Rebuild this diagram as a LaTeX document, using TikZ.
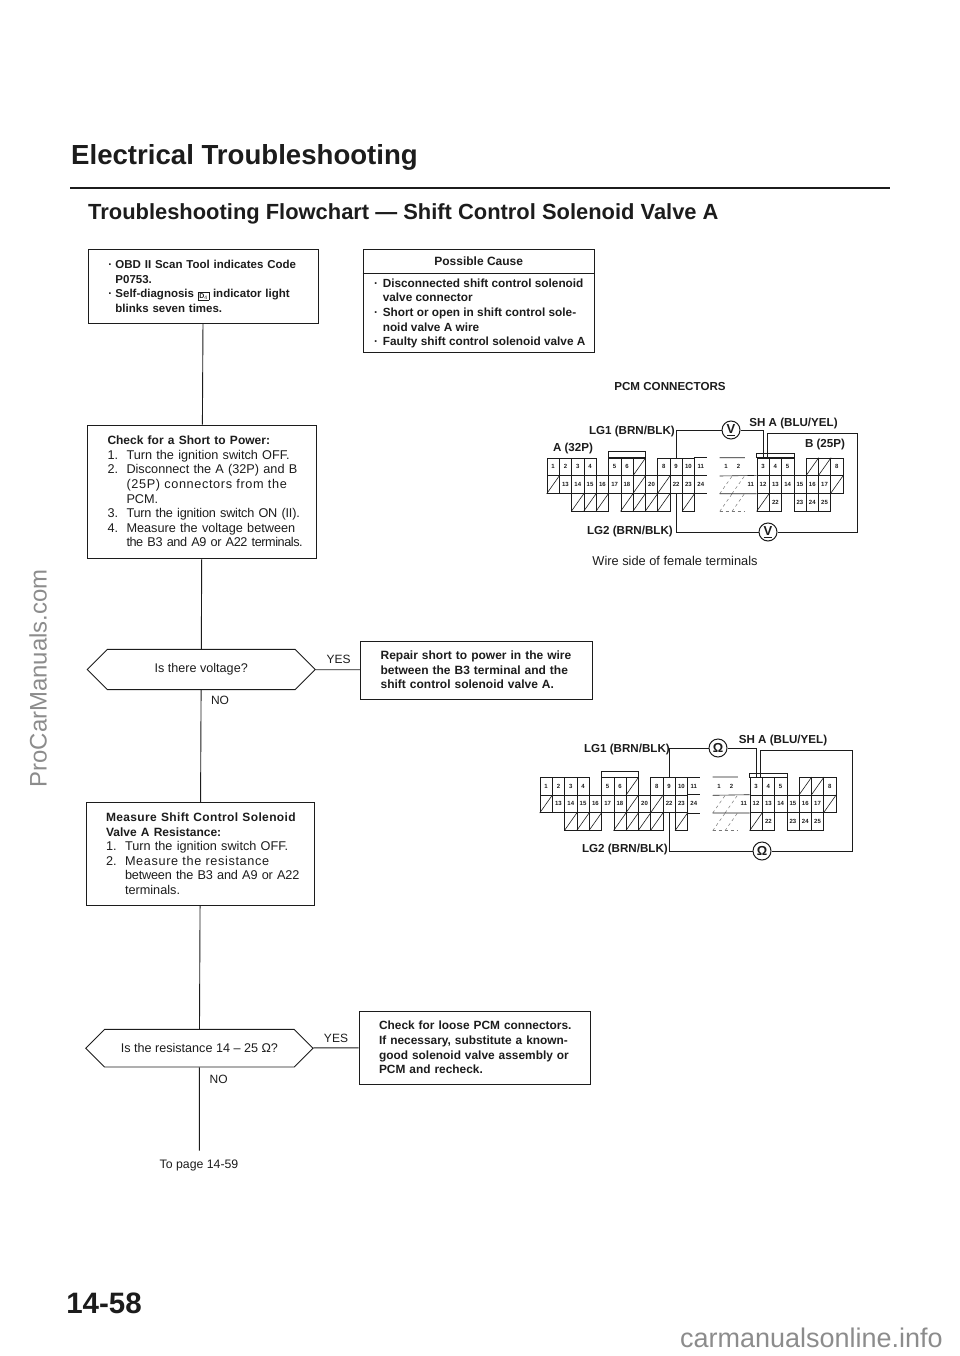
\documentclass[tikz,border=0pt]{standalone}
\usepackage{fontspec}
\setmainfont{Liberation Sans}
\usetikzlibrary{positioning,shapes.misc,shapes.geometric}
\definecolor{ink}{HTML}{1C1C1C}
\definecolor{markgray}{HTML}{8C8C8C}
\newcommand{\fs}[1]{\fontsize{#1}{14.6}\selectfont}
\newcommand{\stline}[3][5]{\makebox[#2][s]{\addfontfeature{LetterSpace=#1}#3}}
\newcommand{\hang}{\hspace*{19pt}}
\newcommand{\numit}[1]{\makebox[19pt][l]{#1}}
\newcommand{\bul}{\makebox[7pt][l]{·}}
\newcommand{\dfour}{{\setlength{\fboxsep}{1pt}\setlength{\fboxrule}{.5pt}\raisebox{-.5pt}{\fbox{\fs{7}D$_{\mathrm{4}}$}}}}
\tikzset{
    boxnode/.style={draw=ink, line width=.9pt, text=ink, inner xsep=0pt, inner ysep=0pt, font=\fs{12.7},
        execute at begin node={\raggedright\leftskip=20pt\relax}},
    boldbox/.style={boxnode, font=\fs{12}\bfseries},
    hexnode/.style={draw=ink, line width=.9pt, text=ink, font=\fs{12.6}, chamfered rectangle, chamfered rectangle xsep=18pt,
        chamfered rectangle ysep=14.2pt, chamfered rectangle corners={north west,south west,north east,south east},
        inner sep=0pt},
    flow/.style={draw=ink, line width=.9pt},
    wire/.style={draw=ink, line width=1pt},
    meter/.style={draw=ink, circle, line width=1pt, fill=white, text=ink, minimum size=18pt, inner sep=0pt, font=\fs{13}\bfseries},
    lbl/.style={text=ink, font=\fs{11.6}\bfseries, inner sep=0pt},
    tag/.style={text=ink, font=\fs{12}, inner sep=0pt},
    cell/.style={draw=ink, line width=.6pt, minimum width=12.3pt, minimum height=17.7pt, inner sep=0pt, text=ink, font=\fs{6}\bfseries},
    plain/.style={cell, draw=none},
}
% one pair of connectors, #1 = prefix of the names, #2 = left end, #3 = top end
\newcommand{\pcmpair}[3]{
    \begin{scope}[shift={(#2,#3)}]
        \foreach \c/\r/\t in {0/0/1,1/0/2,2/0/3,3/0/4,5/0/5,6/0/6,9/0/8,10/0/9,11/0/10,
            1/1/13,2/1/14,3/1/15,4/1/16,5/1/17,6/1/18,8/1/20,10/1/22,11/1/23}
            \node[cell] (#1a\c-\r) at ({\c*12.3+6.15},{\r*17.7+8.85}) {\t};
        \foreach \c/\r in {7/0,0/1,7/1,9/1,2/2,3/2,4/2,6/2,7/2,8/2,9/2,11/2}{
            \node[cell] (#1a\c-\r) at ({\c*12.3+6.15},{\r*17.7+8.85}) {};
            \draw[ink, line width=.6pt] (#1a\c-\r.south west) -- (#1a\c-\r.north east);
        }
        \node[plain] (#1a12-0) at ({12*12.3+6.15},{8.85}) {11};
        \node[plain] (#1a12-1) at ({12*12.3+6.15},{17.7+8.85}) {24};
        \draw[ink, line width=.6pt] (#1a12-0.north west) -- (#1a12-0.north east)
            (#1a12-1.north west) -- (#1a12-1.north east) (#1a12-1.south west) -- (#1a12-1.south east);
        \draw[ink, line width=.6pt] ([yshift=6pt]#1a5-0.north west) rectangle (#1a7-0.north east);
        \begin{scope}[xshift=173pt]
            \foreach \c/\r/\t in {3/0/3,4/0/4,5/0/5,3/1/12,4/1/13,5/1/14,6/1/15,7/1/16,8/1/17,4/2/22,6/2/23,7/2/24,8/2/25,9/0/8}
                \node[cell] (#1b\c-\r) at ({\c*12.3+6.15},{\r*17.7+8.85}) {\t};
            \foreach \c/\r in {7/0,8/0,9/1,3/2}{
                \node[cell] (#1b\c-\r) at ({\c*12.3+6.15},{\r*17.7+8.85}) {};
                \draw[ink, line width=.6pt] (#1b\c-\r.south west) -- (#1b\c-\r.north east);
            }
            \foreach \c/\r/\t in {0/0/1,1/0/2,2/1/11}
                \node[plain] (#1b\c-\r) at ({\c*12.3+6.15},{\r*17.7+8.85}) {\t};
            \foreach \c/\r in {0/1,1/1,0/2,1/2}{
                \node[plain] (#1b\c-\r) at ({\c*12.3+6.15},{\r*17.7+8.85}) {};
                \draw[ink!60, line width=.5pt, dashed] (#1b\c-\r.south west) -- (#1b\c-\r.north east);
            }
            \draw[ink, line width=.6pt] (#1b0-0.north west) -- (#1b1-0.north east)
                (#1b0-0.south west) -- (#1b3-1.north west) (#1b0-1.south west) -- (#1b3-1.south west);
            \draw[ink!60, line width=.5pt, dashed] (#1b0-2.south west) -- (#1b1-2.south east);
            \draw[ink, line width=.6pt] ([yshift=4pt]#1b3-0.north west) rectangle (#1b5-0.north east);
        \end{scope}
    \end{scope}
    \coordinate (#1pinA) at (#1a10-0.north);
    \coordinate (#1pinC) at (#1a10-1.south);
    \coordinate (#1pinB) at (#1b3-0.north);
    \coordinate (#1pinD) at ([xshift=4pt]#1b3-0.north);
}
\begin{document}
\begin{tikzpicture}[x=1pt, y=-1pt]
    \useasboundingbox (0,0) rectangle (960,1356);

    \node[text=ink, font=\fs{27.6}\bfseries, anchor=base west, inner sep=0pt] (pagetitle) at (71,165) {Electrical Troubleshooting};
    \coordinate (ruleL) at (70,188);
    \coordinate (ruleR) at (890,188);
    \draw[ink, line width=2pt] (ruleL) -- (ruleR);
    \node[text=ink, font=\fs{21.9}\bfseries, anchor=base west, inner sep=0pt] (subtitle) at (88,220) {Troubleshooting Flowchart --- Shift Control Solenoid Valve A};

    % flow down the left side
    \node[boldbox, font=\fs{11.5}\bfseries, text width=229.5pt, minimum height=73.5pt] (obd) at (203.2,286.3) {%
        \bul OBD II Scan Tool indicates Code\\
        \hspace*{7pt}P0753.\\
        \bul Self-diagnosis \dfour\ indicator light\\
        \hspace*{7pt}blinks seven times.};
    \node[boxnode, text width=229pt, minimum height=133pt] (short) at (202,491.5) {%
        {\fs{12}\bfseries Check for a Short to Power:}\\
        \numit{1.}Turn the ignition switch OFF.\\
        \numit{2.}\stline[0]{170pt}{Disconnect the A (32P) and B}\\
        \hang\stline{170pt}{(25P) connectors from the}\\
        \hang PCM.\\
        \numit{3.}\stline[-1.7]{170pt}{Turn the ignition switch ON (II).}\\
        \numit{4.}\stline[0]{170pt}{Measure the voltage between}\\
        \hang\stline[-3.5]{170pt}{the B3 and A9 or A22 terminals.}};
    \node[hexnode, minimum width=228pt, minimum height=29pt] (voltage) at (201.2,669.5) {Is there voltage?};
    \node[boxnode, text width=228.6pt, minimum height=102.5pt] (measure) at (200.3,853.7) {%
        {\fs{12}\bfseries\stline[3]{189pt}{Measure Shift Control Solenoid}}\\
        {\fs{12}\bfseries Valve A Resistance:}\\
        \numit{1.}Turn the ignition switch OFF.\\
        \numit{2.}\stline{170pt}{Measure the resistance}\\
        \hang\stline[-1.5]{170pt}{between the B3 and A9 or A22}\\
        \hang terminals.};
    \node[hexnode, minimum width=227.3pt, minimum height=29pt] (ohms) at (199.4,1048.2) {Is the resistance 14 -- 25 Ω?};
    \node[tag, font=\fs{12.3}] (nextpage) at (199,1165) {To page 14-59};
    \coordinate (endflow) at (199.4,1150.5);

    \draw[flow] (obd) -- (short);
    \draw[flow] (short) -- (voltage);
    \draw[flow] (voltage) -- (measure);
    \draw[flow] (measure) -- (ohms);
    \draw[flow] (ohms) -- (endflow);
    \node[tag] (no1) at (220,700) {NO};
    \node[tag] (no2) at (218.6,1079) {NO};

    % right side boxes
    \node[draw=ink, line width=.9pt, minimum width=231.5pt, minimum height=102.5pt] (cause) at (478.7,300.7) {};
    \coordinate (headL) at (cause.west |- 0,273);
    \coordinate (headR) at (cause.east |- 0,273);
    \draw[ink, line width=.9pt] (headL) -- (headR);
    \node[tag, font=\fs{12}\bfseries] (causetitle) at (478.7,261.5) {Possible Cause};
    \node[text=ink, font=\fs{11.8}\bfseries, inner sep=0pt, anchor=north west, align=left] (causetext) at (374,278.5) {%
        \makebox[8.6pt][l]{·}Disconnected shift control solenoid\\
        \hspace*{8.6pt}valve connector\\
        \makebox[8.6pt][l]{·}Short or open in shift control sole-\\
        \hspace*{8.6pt}noid valve A wire\\
        \makebox[8.6pt][l]{·}Faulty shift control solenoid valve A};
    \node[boldbox, text width=231.4pt, minimum height=58pt] (repair) at (476.3,670) {%
        Repair short to power in the wire\\
        between the B3 terminal and the\\
        shift control solenoid valve A.};
    \node[boldbox, font=\fs{11.9}\bfseries, text width=231.5pt, minimum height=73pt] (check) at (474.8,1047.5) {%
        Check for loose PCM connectors.\\
        If necessary, substitute a known-\\
        good solenoid valve assembly or\\
        PCM and recheck.};
    \draw[flow] (voltage) -- (repair);
    \draw[flow] (ohms) -- (check);
    \node[tag] (yes1) at (338.6,659) {YES};
    \node[tag] (yes2) at (336,1038) {YES};

    % upper connectors, voltage
    \node[lbl] (pcmtitle) at (670,387) {PCM CONNECTORS};
    \pcmpair{u}{547}{458}
    \node[meter] (vm1) at (731,430) {\underline{V}};
    \node[meter] (vm2) at (768,532) {\underline{V}};
    \coordinate (ucornerR) at (857,433);
    \draw[wire] (upinA) |- (vm1);
    \draw[wire] (vm1) -| (upinB);
    \draw[wire] (upinD) |- (ucornerR) |- (vm2);
    \draw[wire] (vm2) -| (upinC);
    \node[lbl, anchor=east] (ulg1) at (675,431) {LG1 (BRN/BLK)};
    \node[lbl, anchor=east] (ulg2) at (673,531) {LG2 (BRN/BLK)};
    \node[lbl] (ush) at (793.5,423) {SH A (BLU/YEL)};
    \node[lbl] (conA) at (573,448) {A (32P)};
    \node[lbl] (conB) at (825,444) {B (25P)};
    \node[tag, font=\fs{12.8}] (wireside) at (675,561) {Wire side of female terminals};

    % lower connectors, resistance
    \pcmpair{l}{540}{777.3}
    \node[meter] (om1) at (718,748) {Ω};
    \node[meter] (om2) at (762,851) {Ω};
    \coordinate (lcornerR) at (852,750);
    \draw[wire] (lpinA) |- (om1);
    \draw[wire] (om1) -| (lpinB);
    \draw[wire] (lpinD) |- (lcornerR) |- (om2);
    \draw[wire] (om2) -| (lpinC);
    \node[lbl, anchor=east] (llg1) at (670,749) {LG1 (BRN/BLK)};
    \node[lbl, anchor=east] (llg2) at (668,849) {LG2 (BRN/BLK)};
    \node[lbl] (lsh) at (783,740) {SH A (BLU/YEL)};

    % page number and the marks on the margins
    \node[text=ink, font=\fs{29.5}\bfseries, inner sep=0pt] (pageno) at (104,1303) {14-58};
    \node[text=markgray, font=\fs{23.9}, rotate=90, inner sep=0pt] (markleft) at (38,678.5) {ProCarManuals.com};
    \node[text=markgray, font=\fs{27}, anchor=east, inner sep=0pt] (markright) at (943,1338) {carmanualsonline.info};
\end{tikzpicture}
\end{document}
